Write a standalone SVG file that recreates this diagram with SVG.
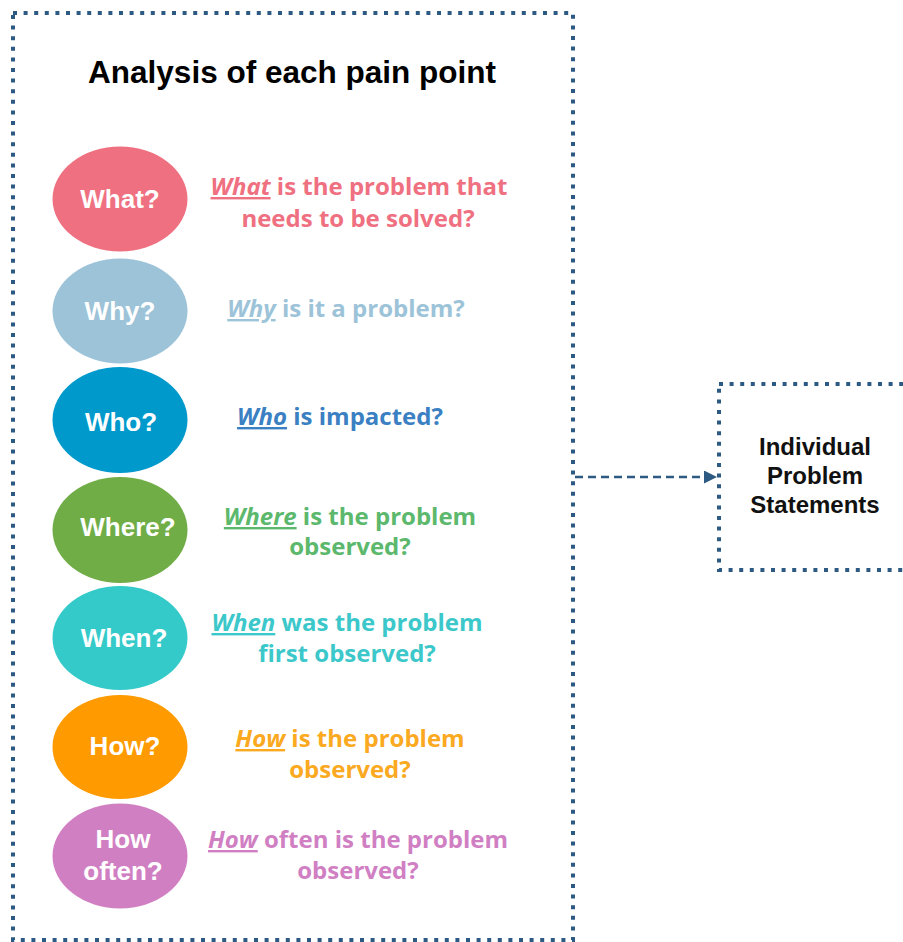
<svg xmlns="http://www.w3.org/2000/svg" width="903" height="942" viewBox="0 0 903 942">
<style>
.frame{fill:none;stroke:#2D5A82;stroke-width:4;stroke-dasharray:4 6.6}
.title{font-family:"Liberation Sans",Arial,sans-serif;font-weight:bold;font-size:31.5px;fill:#000;text-anchor:middle}
.box{font-family:"Liberation Sans",Arial,sans-serif;font-weight:bold;font-size:24px;fill:#111;text-anchor:middle}
.lab{font-family:"Liberation Sans",Arial,sans-serif;font-weight:bold;font-size:26px;fill:#fff;text-anchor:middle}
.q{font-family:"Open Sans","Noto Sans",sans-serif;font-weight:700;font-size:24px;text-anchor:middle}
.k{font-style:italic;text-decoration:underline}
.conn{fill:none;stroke:#2D5A82;stroke-width:2.5;stroke-dasharray:8 5}
</style>
<defs>
<marker id="ah" viewBox="0 0 10 10" refX="10" refY="5" markerWidth="14" markerHeight="13" markerUnits="userSpaceOnUse" orient="auto">
<path d="M0,0 L10,5 L0,10 z" fill="#2D5A82"/>
</marker>
</defs>
<rect width="903" height="942" fill="#fff"/>
<g id="analysis">
<rect class="frame" x="13" y="13" width="560" height="927"/>
<text class="title" x="292" y="83">Analysis of each pain point</text>
</g>
<g id="what">
<ellipse cx="120" cy="199" rx="67.5" ry="52.5" fill="#EF7080"/>
<text class="lab" x="120" y="208">What?</text>
<text class="q" fill="#EF7080"><tspan x="359" y="195"><tspan class="k">What</tspan> is the problem that</tspan><tspan x="358" y="227">needs to be solved?</tspan></text>
</g>
<g id="why">
<ellipse cx="120" cy="311" rx="67.5" ry="52.5" fill="#9CC3D8"/>
<text class="lab" x="120" y="320">Why?</text>
<text class="q" fill="#9CC3D8"><tspan x="346" y="317"><tspan class="k">Why</tspan> is it a problem?</tspan></text>
</g>
<g id="who">
<ellipse cx="120" cy="420" rx="67.5" ry="53" fill="#0099CC"/>
<text class="lab" x="121" y="431">Who?</text>
<text class="q" fill="#3A80C2"><tspan x="340" y="425"><tspan class="k">Who</tspan> is impacted?</tspan></text>
</g>
<g id="where">
<ellipse cx="120" cy="530" rx="67.5" ry="53" fill="#70AD47"/>
<text class="lab" x="128" y="536">Where?</text>
<text class="q" fill="#5CB86C"><tspan x="350" y="525"><tspan class="k">Where</tspan> is the problem</tspan><tspan x="350" y="555">observed?</tspan></text>
</g>
<g id="when">
<ellipse cx="120" cy="638" rx="67.5" ry="52" fill="#35CACA"/>
<text class="lab" x="124" y="647">When?</text>
<text class="q" fill="#3CC8CA"><tspan x="347" y="631"><tspan class="k">When</tspan> was the problem</tspan><tspan x="347" y="662">first observed?</tspan></text>
</g>
<g id="how">
<ellipse cx="120" cy="747" rx="67.5" ry="52" fill="#FF9A00"/>
<text class="lab" x="125" y="755">How?</text>
<text class="q" fill="#FAA921"><tspan x="350" y="747"><tspan class="k">How</tspan> is the problem</tspan><tspan x="350" y="778">observed?</tspan></text>
</g>
<g id="how-often">
<ellipse cx="120" cy="856" rx="67.5" ry="52.5" fill="#D17FC3"/>
<text class="lab"><tspan x="123" y="848">How</tspan><tspan x="123" y="880">often?</tspan></text>
<text class="q" fill="#D17FC3"><tspan x="358" y="848"><tspan class="k">How</tspan> often is the problem</tspan><tspan x="358" y="879">observed?</tspan></text>
</g>
<g id="statements">
<rect class="frame" x="719" y="384" width="200" height="186"/>
<text class="box"><tspan x="815" y="455">Individual</tspan><tspan x="815" y="484">Problem</tspan><tspan x="815" y="513">Statements</tspan></text>
</g>
<g id="connectors">
<path class="conn" d="M575,477 L717,477" marker-end="url(#ah)"/>
</g>
</svg>
